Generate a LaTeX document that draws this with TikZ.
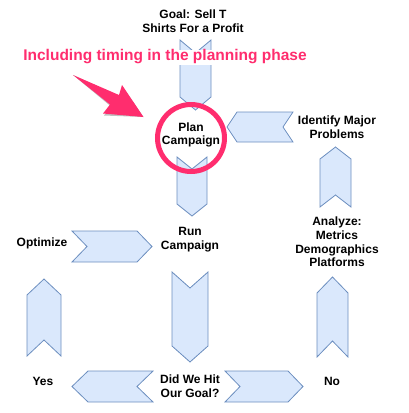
\documentclass[tikz,border=0pt]{standalone}
\usepackage{fontspec}
\setmainfont{Liberation Sans}
\usepackage{tikz}
\usetikzlibrary{positioning,calc}
\definecolor{stepfill}{HTML}{DAE8FC}
\definecolor{stepline}{HTML}{6C8EBF}
\definecolor{markpink}{HTML}{FF2D6E}
\tikzset{stepbox/.style={draw=stepline,fill=stepfill,line width=0.8pt},
  lbl/.style={align=center,font=\bfseries\fontsize{12}{13.8}\selectfont,inner sep=1pt},
  callout/.style={font=\bfseries\fontsize{15.5}{18}\selectfont,inner sep=0pt}}
% chevron: centre, direction, length, width, notch depth
\newcommand{\stepshape}[5]{%
  \draw[stepbox,shift={#1},rotate=#2]
    ({-#3/2},{#4/2}) -- ({#3/2-#5},{#4/2}) -- ({#3/2},0) -- ({#3/2-#5},{-#4/2})
    -- ({-#3/2},{-#4/2}) -- ({-#3/2+#5},0) -- cycle;}

\begin{document}
\begin{tikzpicture}[x=1pt,y=-1pt]
 \useasboundingbox (0,0) rectangle (408,413);
 % the steps
 \stepshape{(195.5,75)}{-90}{70}{31}{13}
 \stepshape{(192,186.5)}{-90}{59}{30}{12}
 \stepshape{(260,127)}{180}{66}{30}{10}
 \stepshape{(335.5,177)}{90}{60}{31}{12}
 \stepshape{(112,246.5)}{0}{80}{31}{15}
 \stepshape{(44,317.5)}{90}{77}{34}{16}
 \stepshape{(190,317)}{-90}{90}{36}{16}
 \stepshape{(332.5,317)}{90}{80}{31}{16}
 \stepshape{(112.5,386.5)}{180}{81}{31}{16}
 \stepshape{(264,386.5)}{0}{78}{31}{15}
 % labels
 \node[lbl] (goal) at (193,21.5) {Goal: Sell T\\Shirts For a Profit};
 \node[lbl] (plan) at (191,135) {Plan\\Campaign};
 \node[lbl] (ident) at (337,127.5) {Identify Major\\Problems};
 \node[lbl] (analyze) at (337,242) {Analyze:\\Metrics\\Demographics\\Platforms};
 \node[lbl] (optim) at (42,243) {Optimize};
 \node[lbl] (run) at (190,240) {Run\\Campaign};
 \node[lbl] (yes) at (43,381) {Yes};
 \node[lbl] (hit) at (190,386.5) {Did We Hit\\Our Goal?};
 \node[lbl] (no) at (332,381) {No};
 % pink markup
 \fill[white] (179,50) rectangle (212,65);
 \node[callout,text=markpink] (note) at (165,57) {Including timing in the planning phase};
 \draw[markpink,line width=5pt] (plan.center)+(0,3) circle (33.5pt);
 \coordinate (tail) at (73,75);
 \coordinate (tip) at (143.5,117);
 \fill[black!25,shift={(1,2)}] (tail) -- (119,95) -- (122,85) -- (tip) -- (103,113.5) -- (110,104.5) -- cycle;
 \fill[markpink] (tail) -- (119,95) -- (122,85) -- (tip) -- (103,113.5) -- (110,104.5) -- cycle;
\end{tikzpicture}
\end{document}
